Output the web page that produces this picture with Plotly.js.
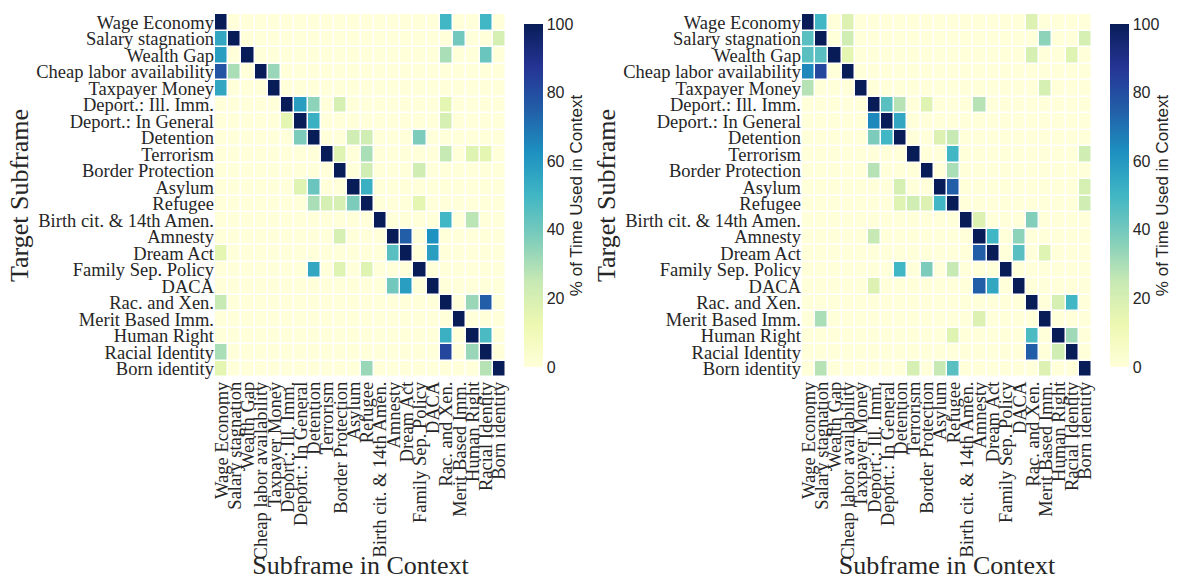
<!DOCTYPE html>
<html><head><meta charset="utf-8">
<script src="https://cdn.plot.ly/plotly-3.0.1.min.js"></script>
<style>html,body{margin:0;padding:0;background:#fff}</style>
</head><body><div id="chart" style="width:1179px;height:580px"></div>
<script>
const categories = ["Wage Economy","Salary stagnation","Wealth Gap","Cheap labor availability","Taxpayer Money","Deport.: Ill. Imm.","Deport.: In General","Detention","Terrorism","Border Protection","Asylum","Refugee","Birth cit. & 14th Amen.","Amnesty","Dream Act","Family Sep. Policy","DACA","Rac. and Xen.","Merit Based Imm.","Human Right","Racial Identity","Born identity"];

const leftValues = [
 [100,0,0,0,0,0,0,0,0,0,0,0,0,0,0,0,0,50,0,0,50,0],
 [55,100,0,0,0,0,0,0,0,0,0,0,0,0,0,0,0,0,40,0,0,20],
 [58,0,100,0,0,0,0,0,0,0,0,0,0,0,0,0,0,30,0,0,42,0],
 [78,30,0,100,33,0,0,0,0,0,0,0,0,0,0,0,0,0,0,0,0,0],
 [55,0,0,0,100,0,0,0,0,0,0,0,0,0,0,0,0,0,0,0,0,0],
 [0,0,0,0,0,100,58,35,0,20,0,0,0,0,0,0,0,15,0,0,0,0],
 [0,0,0,0,0,15,100,52,0,0,0,0,0,0,0,0,0,20,0,0,0,0],
 [0,0,0,0,0,0,38,100,0,0,22,22,0,0,0,38,0,0,0,0,0,0],
 [0,0,0,0,0,0,0,0,100,17,0,30,0,0,0,0,0,25,0,17,15,0],
 [0,0,0,0,0,0,0,0,0,100,0,22,0,0,0,22,0,0,0,0,0,0],
 [0,0,0,0,0,0,17,42,0,0,100,52,0,0,0,0,0,0,0,0,0,0],
 [0,0,0,0,0,0,0,30,20,20,38,100,0,0,0,15,0,0,0,0,0,0],
 [0,0,0,0,0,0,0,0,0,0,0,0,100,0,0,0,0,50,0,27,0,0],
 [0,0,0,0,0,0,0,0,0,20,0,0,0,100,75,0,62,0,0,0,0,0],
 [15,0,0,0,0,0,0,0,0,0,0,0,0,45,100,0,58,0,0,0,0,0],
 [0,0,0,0,0,0,0,55,0,17,0,17,0,0,0,100,0,0,0,0,0,0],
 [0,0,0,0,0,0,0,0,0,0,0,0,0,40,58,0,100,0,0,0,0,0],
 [25,0,0,0,0,0,0,0,0,0,0,0,0,0,0,0,0,100,0,33,75,0],
 [0,0,0,0,0,0,0,0,0,0,0,0,0,0,0,0,0,0,100,0,0,0],
 [0,0,0,0,0,0,0,0,0,0,0,0,0,0,0,0,0,52,0,100,48,0],
 [30,0,0,0,0,0,0,0,0,0,0,0,0,0,0,0,0,82,0,33,100,0],
 [15,0,0,0,0,0,0,0,0,0,0,33,0,0,0,0,0,0,0,0,28,100]
];

const rightValues = [
 [100,50,0,18,0,0,0,0,0,0,0,0,0,0,0,0,0,18,0,0,0,0],
 [45,100,0,22,0,0,0,0,0,0,0,0,0,0,0,0,0,0,35,0,0,20],
 [45,45,100,15,0,0,0,0,0,0,0,0,0,0,0,0,0,20,0,0,17,0],
 [65,82,0,100,0,0,0,0,0,0,0,0,0,0,0,0,0,0,0,0,0,0],
 [28,0,0,0,100,0,0,0,0,0,0,0,0,0,0,0,0,0,20,0,0,0],
 [0,0,0,0,0,100,45,28,0,17,0,0,0,28,0,0,0,0,0,0,0,0],
 [0,0,0,0,0,65,100,55,0,0,0,0,0,0,0,0,0,0,0,0,0,0],
 [0,0,0,0,0,38,50,100,0,0,18,25,0,0,0,0,0,0,0,0,0,0],
 [0,0,0,0,0,0,0,0,100,0,0,50,0,0,0,0,0,0,0,0,0,22],
 [0,0,0,0,0,28,0,0,0,100,0,30,0,0,0,0,0,0,0,0,0,0],
 [0,0,0,0,0,0,0,20,0,0,100,75,0,0,0,0,0,0,0,0,0,20],
 [0,0,0,0,0,0,0,17,22,18,50,100,0,0,0,0,0,0,0,0,0,22],
 [0,0,0,0,0,0,0,0,0,0,0,0,100,18,0,0,0,37,0,0,0,0],
 [0,0,0,0,0,25,0,0,0,0,0,0,0,100,50,0,35,0,0,0,0,0],
 [0,0,0,0,0,0,0,0,0,0,0,0,0,75,100,0,45,0,17,0,0,0],
 [0,0,0,0,0,0,0,50,0,38,0,25,0,0,0,100,0,0,0,0,0,0],
 [0,0,0,0,0,18,0,0,0,0,0,0,0,75,55,0,100,0,0,0,0,0],
 [0,0,0,0,0,0,0,0,0,0,0,0,0,0,0,0,0,100,0,20,50,0],
 [0,30,0,0,0,0,0,0,0,0,0,0,0,18,0,0,0,0,100,0,0,0],
 [0,0,0,0,0,0,0,0,0,0,0,17,0,0,0,0,0,48,0,100,32,0],
 [0,0,0,0,0,0,0,0,0,0,0,0,0,0,0,0,0,75,0,22,100,0],
 [0,28,0,0,0,0,0,0,20,0,25,45,0,0,0,0,0,0,18,0,0,100]
];

const colorbarTicks = [0,20,40,60,80,100];
const colorbarTitle = "% of Time Used in Context";
const xTitle = "Subframe in Context";
const yTitle = "Target Subframe";

const ylgnbu = [[0,'#ffffd9'],[0.125,'#edf8b1'],[0.25,'#c7e9b4'],[0.375,'#7fcdbb'],[0.5,'#41b6c4'],[0.625,'#1d91c0'],[0.75,'#225ea8'],[0.875,'#253494'],[1,'#081d58']];

const H = 580, W = 1179;
const yDom = [1-377/H, 1-14/H];

function cb(xpx){
  return {x: xpx/W, xanchor:'left', xpad:0, y: (yDom[0]+yDom[1])/2, yanchor:'middle',
    len: yDom[1]-yDom[0], lenmode:'fraction', thickness:19, thicknessmode:'pixels',
    outlinewidth:0, tickvals: colorbarTicks, ticks:'', ticklabelpad: 4,
    tickfont:{family:'Liberation Sans, Arial, sans-serif', size:16, color:'#262626'},
    title:{text: colorbarTitle, side:'right', font:{family:'Liberation Sans, Arial, sans-serif', size:17, color:'#262626'}}};
}

const traces = [
 {type:'heatmap', z:leftValues, x:categories, y:categories, xaxis:'x', yaxis:'y',
  colorscale:ylgnbu, zmin:0, zmax:100, xgap:1.5, ygap:1.5, colorbar:cb(524)},
 {type:'heatmap', z:rightValues, x:categories, y:categories, xaxis:'x2', yaxis:'y2',
  colorscale:ylgnbu, zmin:0, zmax:100, xgap:1.5, ygap:1.5, colorbar:cb(1110)}
];

const tickFont = {family:'Liberation Serif, Times New Roman, serif', size:18.5, color:'#262626'};
const titleFont = {family:'Liberation Serif, Times New Roman, serif', size:26, color:'#262626'};

function xa(dom, anchor){
  return {domain:dom, anchor:anchor, type:'category', tickangle:-90, tickfont:tickFont,
    tickmode:'array', tickvals:categories, ticktext:categories,
    showgrid:false, zeroline:false, showline:false, ticks:'', ticklen:0,
    title:{text:xTitle, font:titleFont, standoff:4}};
}
function ya(anchor){
  return {domain:yDom, anchor:anchor, type:'category', autorange:'reversed', tickfont:tickFont,
    tickmode:'array', tickvals:categories, ticktext:categories,
    showgrid:false, zeroline:false, showline:false, ticks:'', ticklen:0,
    title:{text:yTitle, font:titleFont, standoff:0}};
}

const layout = {
  width:W, height:H, margin:{l:0,r:0,t:0,b:0},
  paper_bgcolor:'#fff', plot_bgcolor:'#fff', showlegend:false,
  xaxis: xa([215/W, 506/W], 'y'),
  yaxis: ya('x'),
  xaxis2: xa([802/W, 1092/W], 'y2'),
  yaxis2: ya('x2')
};

Plotly.newPlot('chart', traces, layout, {displayModeBar:false, staticPlot:true});
</script></body></html>
